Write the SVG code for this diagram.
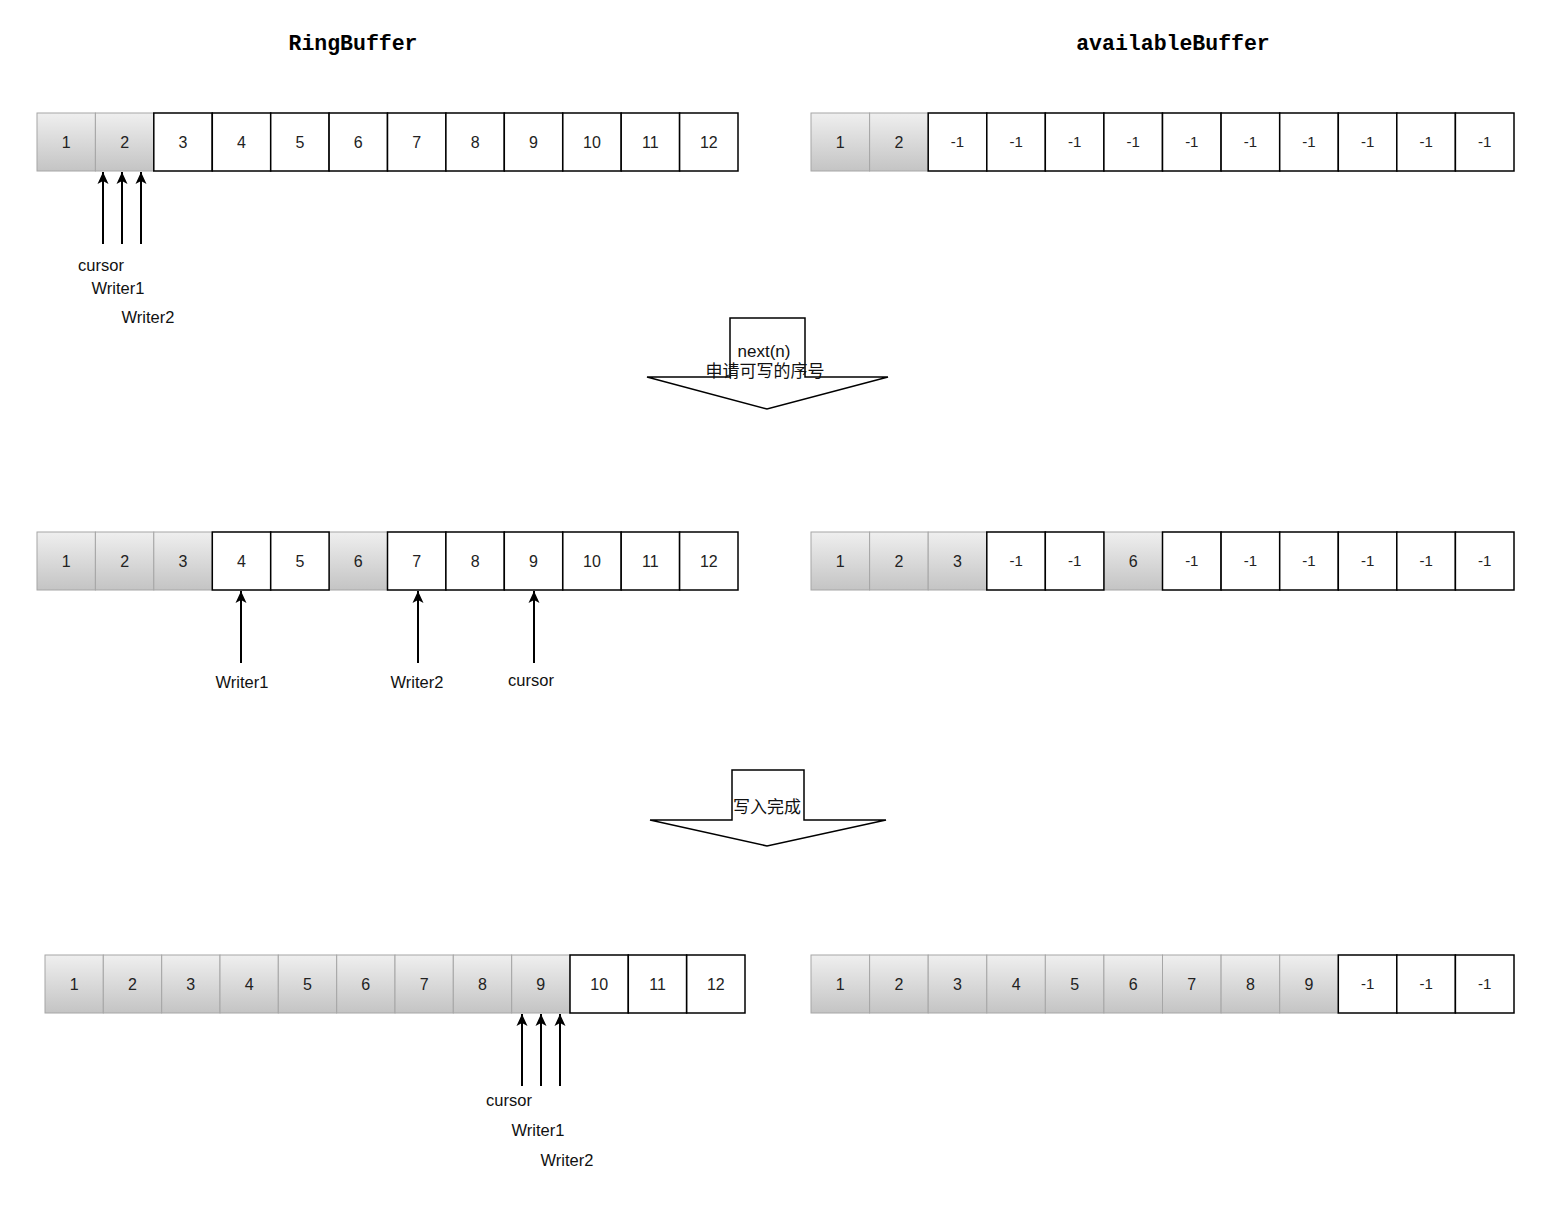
<svg xmlns="http://www.w3.org/2000/svg" width="1544" height="1216" viewBox="0 0 1544 1216">
<defs>
<linearGradient id="g" x1="0" y1="0" x2="0" y2="1">
<stop offset="0" stop-color="#efefef"/>
<stop offset="1" stop-color="#c4c4c4"/>
</linearGradient>
<marker id="ah" markerUnits="userSpaceOnUse" markerWidth="12" markerHeight="12" viewBox="0 0 12 12" refX="12" refY="6" orient="auto">
<path d="M0,0.5 L12,6 L0,11.5 L3,6 Z" fill="#000"/>
</marker>
<style>
.gc{fill:url(#g);stroke:#a6a6a6;stroke-width:1}
.wc{fill:#fff;stroke:#000;stroke-width:1.5}
.n{font-family:"Liberation Sans",Arial,sans-serif;font-size:16px;fill:#222;text-anchor:middle}
.m{font-family:"Liberation Sans",Arial,sans-serif;font-size:15px;fill:#222;text-anchor:middle}
.l{font-family:"Liberation Sans",Arial,sans-serif;font-size:16.5px;fill:#111;text-anchor:middle}
.t{font-family:"Liberation Mono","Courier New",monospace;font-size:21.5px;font-weight:bold;fill:#000;text-anchor:middle}
.c{font-family:"Liberation Sans","Noto Sans CJK SC",sans-serif;font-size:17px;fill:#111;text-anchor:middle}
.ar{stroke:#000;stroke-width:2;fill:none;marker-end:url(#ah)}
.big{fill:#fff;stroke:#000;stroke-width:1.5}
</style>
</defs>

<g id="titles">
<text class="t" x="353" y="50">RingBuffer</text>
<text class="t" x="1173" y="50">availableBuffer</text>
</g>

<!-- Row 1 RingBuffer -->
<g id="rb1">
<rect class="gc" x="37" y="113" width="58.4" height="58"/>
<rect class="gc" x="95.4" y="113" width="58.4" height="58"/>
<rect class="wc" x="153.8" y="113" width="58.4" height="58"/>
<rect class="wc" x="212.3" y="113" width="58.4" height="58"/>
<rect class="wc" x="270.7" y="113" width="58.4" height="58"/>
<rect class="wc" x="329.1" y="113" width="58.4" height="58"/>
<rect class="wc" x="387.5" y="113" width="58.4" height="58"/>
<rect class="wc" x="445.9" y="113" width="58.4" height="58"/>
<rect class="wc" x="504.3" y="113" width="58.4" height="58"/>
<rect class="wc" x="562.8" y="113" width="58.4" height="58"/>
<rect class="wc" x="621.2" y="113" width="58.4" height="58"/>
<rect class="wc" x="679.6" y="113" width="58.4" height="58"/>
<text class="n" x="66.2" y="147.5">1</text>
<text class="n" x="124.6" y="147.5">2</text>
<text class="n" x="183" y="147.5">3</text>
<text class="n" x="241.5" y="147.5">4</text>
<text class="n" x="299.9" y="147.5">5</text>
<text class="n" x="358.3" y="147.5">6</text>
<text class="n" x="416.7" y="147.5">7</text>
<text class="n" x="475.1" y="147.5">8</text>
<text class="n" x="533.5" y="147.5">9</text>
<text class="n" x="592" y="147.5">10</text>
<text class="n" x="650.4" y="147.5">11</text>
<text class="n" x="708.8" y="147.5">12</text>
</g>

<!-- Row 1 availableBuffer -->
<g id="ab1">
<rect class="gc" x="811" y="113" width="58.6" height="58"/>
<rect class="gc" x="869.6" y="113" width="58.6" height="58"/>
<rect class="wc" x="928.2" y="113" width="58.6" height="58"/>
<rect class="wc" x="986.8" y="113" width="58.6" height="58"/>
<rect class="wc" x="1045.3" y="113" width="58.6" height="58"/>
<rect class="wc" x="1103.9" y="113" width="58.6" height="58"/>
<rect class="wc" x="1162.5" y="113" width="58.6" height="58"/>
<rect class="wc" x="1221.1" y="113" width="58.6" height="58"/>
<rect class="wc" x="1279.7" y="113" width="58.6" height="58"/>
<rect class="wc" x="1338.3" y="113" width="58.6" height="58"/>
<rect class="wc" x="1396.8" y="113" width="58.6" height="58"/>
<rect class="wc" x="1455.4" y="113" width="58.6" height="58"/>
<text class="n" x="840.3" y="147.5">1</text>
<text class="n" x="898.9" y="147.5">2</text>
<text class="m" x="957.5" y="147">-1</text>
<text class="m" x="1016.1" y="147">-1</text>
<text class="m" x="1074.6" y="147">-1</text>
<text class="m" x="1133.2" y="147">-1</text>
<text class="m" x="1191.8" y="147">-1</text>
<text class="m" x="1250.4" y="147">-1</text>
<text class="m" x="1309" y="147">-1</text>
<text class="m" x="1367.6" y="147">-1</text>
<text class="m" x="1426.1" y="147">-1</text>
<text class="m" x="1484.7" y="147">-1</text>
</g>

<!-- Row 2 RingBuffer -->
<g id="rb2">
<rect class="gc" x="37" y="532" width="58.4" height="58"/>
<rect class="gc" x="95.4" y="532" width="58.4" height="58"/>
<rect class="gc" x="153.8" y="532" width="58.4" height="58"/>
<rect class="gc" x="329.1" y="532" width="58.4" height="58"/>
<rect class="wc" x="212.3" y="532" width="58.4" height="58"/>
<rect class="wc" x="270.7" y="532" width="58.4" height="58"/>
<rect class="wc" x="387.5" y="532" width="58.4" height="58"/>
<rect class="wc" x="445.9" y="532" width="58.4" height="58"/>
<rect class="wc" x="504.3" y="532" width="58.4" height="58"/>
<rect class="wc" x="562.8" y="532" width="58.4" height="58"/>
<rect class="wc" x="621.2" y="532" width="58.4" height="58"/>
<rect class="wc" x="679.6" y="532" width="58.4" height="58"/>
<text class="n" x="66.2" y="566.5">1</text>
<text class="n" x="124.6" y="566.5">2</text>
<text class="n" x="183" y="566.5">3</text>
<text class="n" x="241.5" y="566.5">4</text>
<text class="n" x="299.9" y="566.5">5</text>
<text class="n" x="358.3" y="566.5">6</text>
<text class="n" x="416.7" y="566.5">7</text>
<text class="n" x="475.1" y="566.5">8</text>
<text class="n" x="533.5" y="566.5">9</text>
<text class="n" x="592" y="566.5">10</text>
<text class="n" x="650.4" y="566.5">11</text>
<text class="n" x="708.8" y="566.5">12</text>
</g>

<!-- Row 2 availableBuffer -->
<g id="ab2">
<rect class="gc" x="811" y="532" width="58.6" height="58"/>
<rect class="gc" x="869.6" y="532" width="58.6" height="58"/>
<rect class="gc" x="928.2" y="532" width="58.6" height="58"/>
<rect class="gc" x="1103.9" y="532" width="58.6" height="58"/>
<rect class="wc" x="986.8" y="532" width="58.6" height="58"/>
<rect class="wc" x="1045.3" y="532" width="58.6" height="58"/>
<rect class="wc" x="1162.5" y="532" width="58.6" height="58"/>
<rect class="wc" x="1221.1" y="532" width="58.6" height="58"/>
<rect class="wc" x="1279.7" y="532" width="58.6" height="58"/>
<rect class="wc" x="1338.3" y="532" width="58.6" height="58"/>
<rect class="wc" x="1396.8" y="532" width="58.6" height="58"/>
<rect class="wc" x="1455.4" y="532" width="58.6" height="58"/>
<text class="n" x="840.3" y="566.5">1</text>
<text class="n" x="898.9" y="566.5">2</text>
<text class="n" x="957.5" y="566.5">3</text>
<text class="m" x="1016.1" y="566">-1</text>
<text class="m" x="1074.6" y="566">-1</text>
<text class="n" x="1133.2" y="566.5">6</text>
<text class="m" x="1191.8" y="566">-1</text>
<text class="m" x="1250.4" y="566">-1</text>
<text class="m" x="1309" y="566">-1</text>
<text class="m" x="1367.6" y="566">-1</text>
<text class="m" x="1426.1" y="566">-1</text>
<text class="m" x="1484.7" y="566">-1</text>
</g>

<!-- Row 3 RingBuffer -->
<g id="rb3">
<rect class="gc" x="45" y="955" width="58.3" height="58"/>
<rect class="gc" x="103.3" y="955" width="58.3" height="58"/>
<rect class="gc" x="161.7" y="955" width="58.3" height="58"/>
<rect class="gc" x="220" y="955" width="58.3" height="58"/>
<rect class="gc" x="278.3" y="955" width="58.3" height="58"/>
<rect class="gc" x="336.7" y="955" width="58.3" height="58"/>
<rect class="gc" x="395" y="955" width="58.3" height="58"/>
<rect class="gc" x="453.3" y="955" width="58.3" height="58"/>
<rect class="gc" x="511.7" y="955" width="58.3" height="58"/>
<rect class="wc" x="570" y="955" width="58.3" height="58"/>
<rect class="wc" x="628.3" y="955" width="58.3" height="58"/>
<rect class="wc" x="686.7" y="955" width="58.3" height="58"/>
<text class="n" x="74.2" y="989.5">1</text>
<text class="n" x="132.5" y="989.5">2</text>
<text class="n" x="190.8" y="989.5">3</text>
<text class="n" x="249.2" y="989.5">4</text>
<text class="n" x="307.5" y="989.5">5</text>
<text class="n" x="365.8" y="989.5">6</text>
<text class="n" x="424.2" y="989.5">7</text>
<text class="n" x="482.5" y="989.5">8</text>
<text class="n" x="540.8" y="989.5">9</text>
<text class="n" x="599.2" y="989.5">10</text>
<text class="n" x="657.5" y="989.5">11</text>
<text class="n" x="715.8" y="989.5">12</text>
</g>

<!-- Row 3 availableBuffer -->
<g id="ab3">
<rect class="gc" x="811" y="955" width="58.6" height="58"/>
<rect class="gc" x="869.6" y="955" width="58.6" height="58"/>
<rect class="gc" x="928.2" y="955" width="58.6" height="58"/>
<rect class="gc" x="986.8" y="955" width="58.6" height="58"/>
<rect class="gc" x="1045.3" y="955" width="58.6" height="58"/>
<rect class="gc" x="1103.9" y="955" width="58.6" height="58"/>
<rect class="gc" x="1162.5" y="955" width="58.6" height="58"/>
<rect class="gc" x="1221.1" y="955" width="58.6" height="58"/>
<rect class="gc" x="1279.7" y="955" width="58.6" height="58"/>
<rect class="wc" x="1338.3" y="955" width="58.6" height="58"/>
<rect class="wc" x="1396.8" y="955" width="58.6" height="58"/>
<rect class="wc" x="1455.4" y="955" width="58.6" height="58"/>
<text class="n" x="840.3" y="989.5">1</text>
<text class="n" x="898.9" y="989.5">2</text>
<text class="n" x="957.5" y="989.5">3</text>
<text class="n" x="1016.1" y="989.5">4</text>
<text class="n" x="1074.6" y="989.5">5</text>
<text class="n" x="1133.2" y="989.5">6</text>
<text class="n" x="1191.8" y="989.5">7</text>
<text class="n" x="1250.4" y="989.5">8</text>
<text class="n" x="1309" y="989.5">9</text>
<text class="m" x="1367.6" y="989">-1</text>
<text class="m" x="1426.1" y="989">-1</text>
<text class="m" x="1484.7" y="989">-1</text>
</g>

<!-- Big arrows -->
<g id="step1">
<path class="big" d="M730,318 L805,318 L805,377 L888,377 L767,409 L647,377 L730,377 Z"/>
<text class="c" x="764" y="357">next(n)</text>
<text class="c" x="765" y="377">申请可写的序号</text>
</g>
<g id="step2">
<path class="big" d="M732,770 L804,770 L804,820 L886,820 L767,846 L650,820 L732,820 Z"/>
<text class="c" x="767" y="813">写入完成</text>
</g>

<!-- Connectors -->
<g id="connectors">
<line class="ar" x1="103" y1="244" x2="103" y2="172"/>
<line class="ar" x1="122" y1="244" x2="122" y2="172"/>
<line class="ar" x1="141" y1="244" x2="141" y2="172"/>
<line class="ar" x1="241" y1="663" x2="241" y2="591"/>
<line class="ar" x1="418" y1="663" x2="418" y2="591"/>
<line class="ar" x1="534" y1="663" x2="534" y2="591"/>
<line class="ar" x1="522" y1="1086" x2="522" y2="1014"/>
<line class="ar" x1="541" y1="1086" x2="541" y2="1014"/>
<line class="ar" x1="560" y1="1086" x2="560" y2="1014"/>
</g>

<!-- Labels -->
<g id="labels">
<text class="l" x="101" y="271">cursor</text>
<text class="l" x="118" y="294">Writer1</text>
<text class="l" x="148" y="323">Writer2</text>
<text class="l" x="242" y="688">Writer1</text>
<text class="l" x="417" y="688">Writer2</text>
<text class="l" x="531" y="686">cursor</text>
<text class="l" x="509" y="1106">cursor</text>
<text class="l" x="538" y="1136">Writer1</text>
<text class="l" x="567" y="1166">Writer2</text>
</g>
</svg>
